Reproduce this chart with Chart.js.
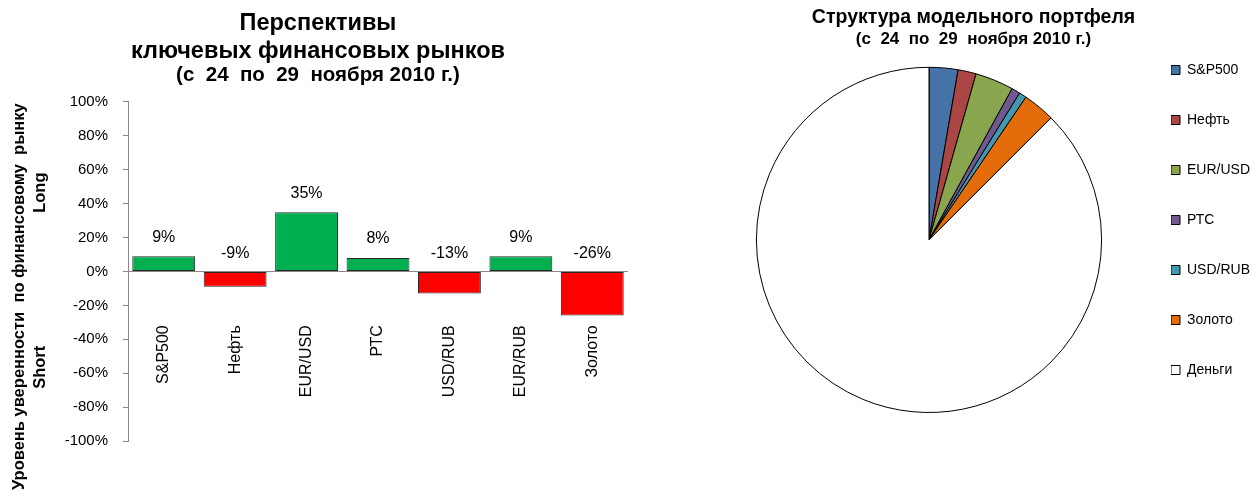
<!DOCTYPE html>
<html lang="ru">
<head>
<meta charset="utf-8">
<title>Перспективы ключевых финансовых рынков</title>
<script src="https://cdn.jsdelivr.net/npm/chart.js@4.4.1/dist/chart.umd.min.js"></script>
<style>
  html, body { margin: 0; padding: 0; background: #fff; overflow: hidden; }
  #bar-box { position: absolute; left: 0; top: 0; width: 640px; height: 495px; }
  #pie-box { position: absolute; left: 640px; top: 0; width: 620px; height: 495px; }
</style>
</head>
<body>
<div id="bar-box"><canvas id="bar-chart"></canvas></div>
<div id="pie-box"><canvas id="pie-chart"></canvas></div>
<script>
// bar chart data
const markets = ["S&P500", "Нефть", "EUR/USD", "РТС", "USD/RUB", "EUR/RUB", "Золото"];
const confidence = [9, -9, 35, 8, -13, 9, -26];
const yMin = -100;
const yMax = 100;
const yStep = 20;

// pie chart data
const portfolioLabels = ["S&P500", "Нефть", "EUR/USD", "РТС", "USD/RUB", "Золото", "Деньги"];
const portfolioShares = [2.7, 1.7, 3.6, 0.8, 0.7, 3.0, 87.5];

const FONT = '"Liberation Sans", Arial, sans-serif';
Chart.defaults.font.family = FONT;
Chart.defaults.color = "#000";

const barDiv = document.getElementById("bar-chart");
const pieDiv = document.getElementById("pie-chart");

// value labels above bars (negative ones sit above the zero line)
const barValueLabels = {
  id: "barValueLabels",
  afterDatasetsDraw(chart) {
    const ctx = chart.ctx;
    const y = chart.scales.y;
    const zero = y.getPixelForValue(0);
    const meta = chart.getDatasetMeta(0);
    ctx.save();
    ctx.font = "16px " + FONT;
    ctx.fillStyle = "#000";
    ctx.textAlign = "center";
    ctx.textBaseline = "middle";
    meta.data.forEach((bar, i) => {
      const v = confidence[i];
      const ty = v >= 0 ? bar.y - 19 : zero - 18;
      ctx.fillText(v + "%", bar.x, ty);
    });
    ctx.restore();
  },
};

const barConfig = {
  type: "bar",
  data: {
    labels: markets,
    datasets: [
      {
        data: confidence,
        backgroundColor: confidence.map((v) => (v >= 0 ? "#00B050" : "#FF0000")),
        borderColor: "#262626",
        borderWidth: 1,
        borderSkipped: false,
        categoryPercentage: 1,
        barPercentage: 0.88,
      },
    ],
  },
  options: {
    responsive: true,
    maintainAspectRatio: false,
    animation: false,
    layout: { padding: { left: 8, right: 12, top: 0, bottom: 54 } },
    plugins: {
      legend: { display: false },
      tooltip: { enabled: false },
      title: {
        display: true,
        text: ["Перспективы", "ключевых финансовых рынков"],
        font: { size: 23.5, weight: "bold", lineHeight: 1.18 },
        color: "#000",
        padding: { top: 10, bottom: 0 },
      },
      subtitle: {
        display: true,
        text: "(с  24  по  29  ноября 2010 г.)",
        font: { size: 20.5, weight: "bold", lineHeight: 1.0 },
        color: "#000",
        padding: { top: 0, bottom: 16 },
      },
    },
    scales: {
      x: {
        // category names hang below the bars, not on the zero line
        position: { y: -27 },
        grid: { display: false },
        border: { display: false },
        ticks: {
          autoSkip: false,
          maxRotation: 90,
          minRotation: 90,
          padding: 0,
          font: { size: 16 },
          color: "#000",
        },
      },
      y: {
        min: yMin,
        max: yMax,
        afterFit: (scale) => {
          scale.width = 120;
        },
        ticks: {
          stepSize: yStep,
          padding: 15,
          font: { size: 15 },
          color: "#000",
          callback: (v) => v + "%",
        },
        grid: {
          color: (c) => (c.tick && c.tick.value === 0 ? "#888" : "rgba(0,0,0,0)"),
          tickColor: "#888",
          tickLength: 5,
        },
        border: { color: "#888" },
        title: {
          display: true,
          text: [
            "Уровень уверенности  по финансовому  рынку           ",
            "Short                             Long    ",
          ],
          font: { size: 16.5, weight: "bold", lineHeight: 1.28 },
          color: "#000",
          padding: { top: 0.5, bottom: 0 },
        },
      },
    },
  },
  plugins: [barValueLabels],
};

const pieConfig = {
  type: "pie",
  data: {
    labels: portfolioLabels,
    datasets: [
      {
        data: portfolioShares,
        backgroundColor: ["#4572A7", "#AA4643", "#89A54E", "#71588F", "#4198AF", "#E46C0A", "#FFFFFF"],
        borderColor: "#000",
        borderWidth: 1,
      },
    ],
  },
  options: {
    responsive: true,
    maintainAspectRatio: false,
    animation: false,
    layout: { padding: { left: 47, right: 0, top: 0, bottom: 82 } },
    plugins: {
      tooltip: { enabled: false },
      title: {
        display: true,
        text: "Структура модельного портфеля",
        font: { size: 19.5, weight: "bold", lineHeight: 1.2 },
        color: "#000",
        padding: { top: 6, bottom: 0 },
      },
      subtitle: {
        display: true,
        text: "(с  24  по  29  ноября 2010 г.)",
        font: { size: 17, weight: "bold", lineHeight: 1.2 },
        color: "#000",
        padding: { top: 0, bottom: 17 },
      },
      legend: {
        position: "right",
        align: "end",
        labels: {
          // one-line arrays so the tall line height spaces the items
          generateLabels: (chart) =>
            Chart.overrides.pie.plugins.legend.labels
              .generateLabels(chart)
              .map((item) => ({ ...item, text: [item.text] })),
          boxWidth: 9,
          boxHeight: 9,
          padding: 0,
          font: { size: 14, lineHeight: "50px" },
          color: "#000",
        },
      },
    },
  },
};

const barChart = new Chart(barDiv, barConfig);
const pieChart = new Chart(pieDiv, pieConfig);
</script>
</body>
</html>
